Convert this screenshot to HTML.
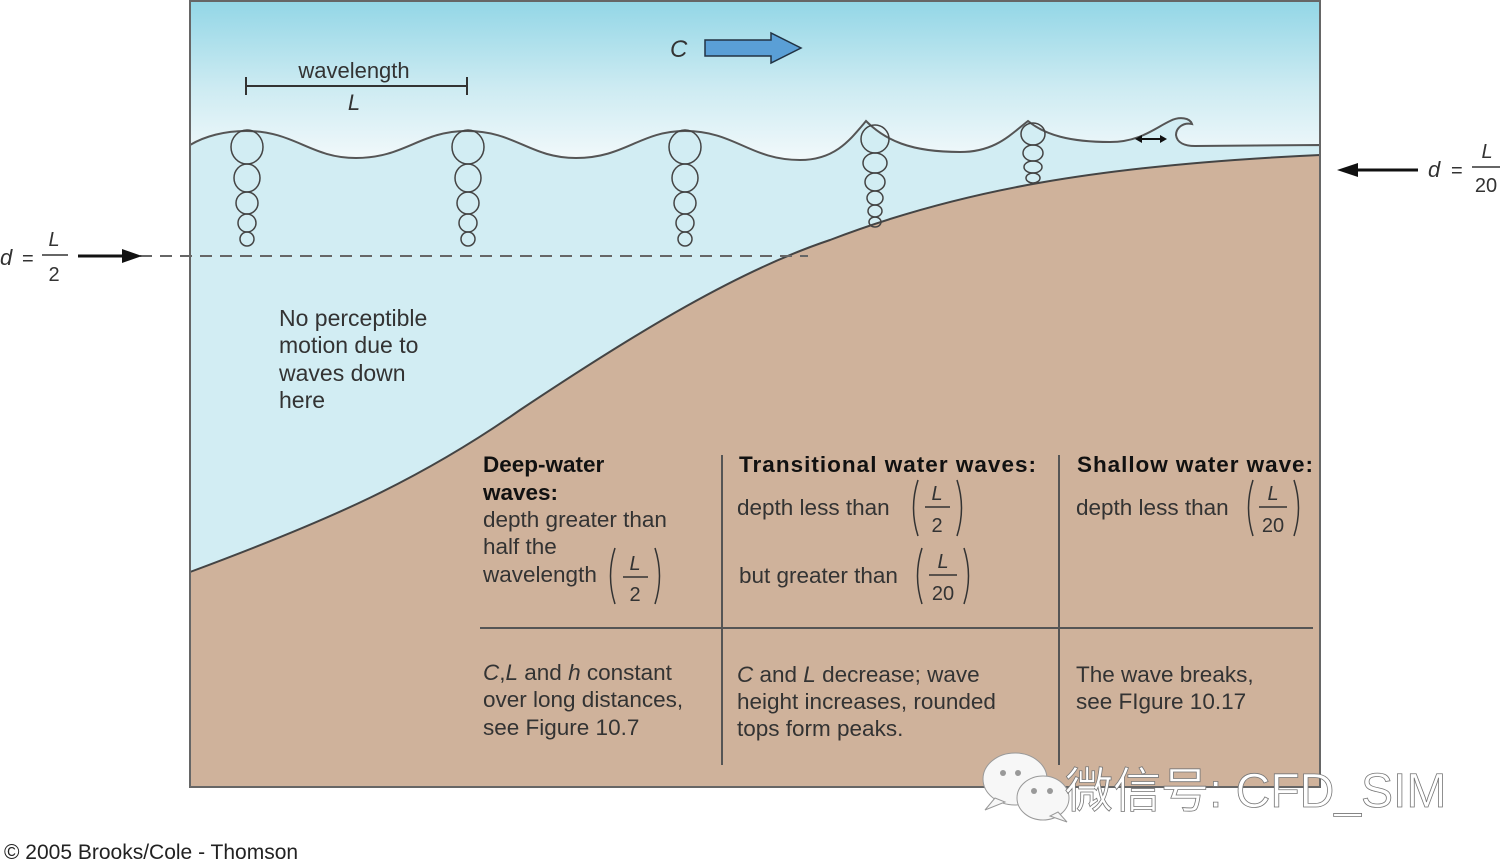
<!DOCTYPE html>
<html><head><meta charset="utf-8"><style>
html,body{margin:0;padding:0;background:#fff;width:1500px;height:867px;overflow:hidden}
svg{display:block}
text{font-family:"Liberation Sans","Noto Sans CJK SC",sans-serif;fill:#333}
</style></head><body>
<svg width="1500" height="867" viewBox="0 0 1500 867" xmlns="http://www.w3.org/2000/svg">
<defs>
<linearGradient id="sky" x1="0" y1="0" x2="0" y2="1">
<stop offset="0" stop-color="#92d6e6"/>
<stop offset="0.55" stop-color="#cdebf2"/>
<stop offset="1" stop-color="#f2f9fb"/>
</linearGradient>
</defs>
<rect x="190" y="0" width="1130" height="160" fill="url(#sky)"/>
<path d="M190,145 C205,136 225,131 246,131 C295,131 310,158 356,158 C405,158 420,131 467,131 C515,131 530,158 576,158 C625,158 640,131 685,131 C735,131 750,160 800,160 C835,160 850,140 866,121 C885,140 910,152 960,152 C995,152 1010,135 1028,121 C1045,135 1070,142 1110,142 C1140,142 1155,128 1170,121 C1180,116 1190,118 1192,124 C1183,122 1176,128 1176,135 C1177,143 1185,146 1195,146 L1320,145 L1320,787 L190,787 Z" fill="#d2edf3" stroke="#555" stroke-width="2"/>
<path d="M190,572 C330,520 420,480 520,410 C640,330 740,270 830,240 C960,190 1100,165 1320,155 L1320,787 L190,787 Z" fill="#cfb29b" stroke="#444" stroke-width="2"/>
<rect x="190" y="1" width="1130" height="786" fill="none" stroke="#666" stroke-width="2"/>
<line x1="140" y1="256" x2="808" y2="256" stroke="#666" stroke-width="2" stroke-dasharray="12,8"/>
<g fill="none" stroke="#444" stroke-width="1.5">
<g id="col">
<ellipse cx="247" cy="147" rx="16" ry="17"/>
<ellipse cx="247" cy="178" rx="13" ry="14"/>
<ellipse cx="247" cy="203" rx="11" ry="11"/>
<ellipse cx="247" cy="223" rx="9" ry="9"/>
<ellipse cx="247" cy="239" rx="7" ry="7"/>
</g>
<use href="#col" x="221"/>
<use href="#col" x="438"/>
<ellipse cx="875" cy="139" rx="14" ry="14"/>
<ellipse cx="875" cy="163" rx="12" ry="10"/>
<ellipse cx="875" cy="182" rx="10" ry="9"/>
<ellipse cx="875" cy="198" rx="8" ry="7"/>
<ellipse cx="875" cy="211" rx="7" ry="6"/>
<ellipse cx="875" cy="222" rx="6" ry="5"/>
<ellipse cx="1033" cy="134" rx="12" ry="11"/>
<ellipse cx="1033" cy="153" rx="10" ry="8"/>
<ellipse cx="1033" cy="167" rx="9" ry="6"/>
<ellipse cx="1033" cy="178" rx="7" ry="5"/>
</g>
<line x1="1139" y1="139" x2="1163" y2="139" stroke="#111" stroke-width="2"/>
<path d="M1135,139 l7,-4 v8z M1167,139 l-7,-4 v8z" fill="#111"/>
<line x1="246" y1="86" x2="467" y2="86" stroke="#333" stroke-width="2"/>
<line x1="246" y1="77" x2="246" y2="95" stroke="#333" stroke-width="2"/>
<line x1="467" y1="77" x2="467" y2="95" stroke="#333" stroke-width="2"/>
<text x="354" y="78" font-size="22" text-anchor="middle">wavelength</text>
<text x="354" y="110" font-size="22" font-style="italic" text-anchor="middle">L</text>
<text x="670" y="57" font-size="24" font-style="italic">C</text>
<path d="M705,40 H771 V33 L801,48 L771,63 V56 H705 Z" fill="#5a9fd6" stroke="#234" stroke-width="1.5"/>
<text x="0" y="265" font-size="22" font-style="italic">d</text>
<text x="22" y="265" font-size="20">=</text>
<text x="54" y="246" font-size="20" font-style="italic" text-anchor="middle">L</text>
<line x1="42" y1="255" x2="68" y2="255" stroke="#333" stroke-width="1.5"/>
<text x="54" y="281" font-size="20" text-anchor="middle">2</text>
<line x1="78" y1="256" x2="125" y2="256" stroke="#111" stroke-width="3"/>
<path d="M142,256 L122,249 L122,263 Z" fill="#111"/>
<line x1="1357" y1="170" x2="1418" y2="170" stroke="#111" stroke-width="3"/>
<path d="M1337,170 L1358,163 L1358,177 Z" fill="#111"/>
<text x="1428" y="177" font-size="22" font-style="italic">d</text>
<text x="1451" y="177" font-size="20">=</text>
<text x="1487" y="158" font-size="20" font-style="italic" text-anchor="middle">L</text>
<line x1="1472" y1="167" x2="1500" y2="167" stroke="#333" stroke-width="1.5"/>
<text x="1486" y="192" font-size="20" text-anchor="middle">20</text>
<g font-size="23">
<text x="279" y="326">No perceptible</text>
<text x="279" y="353">motion due to</text>
<text x="279" y="381">waves down</text>
<text x="279" y="408">here</text>
</g>
<g stroke="#555" stroke-width="2">
<line x1="722" y1="455" x2="722" y2="765"/>
<line x1="1059" y1="455" x2="1059" y2="765"/>
<line x1="480" y1="628" x2="1313" y2="628"/>
</g>
<g font-size="22.5" fill="#222">
<text x="483" y="472" font-weight="bold" style="fill:#111">Deep-water</text>
<text x="483" y="500" font-weight="bold" style="fill:#111">waves:</text>
<text x="483" y="527">depth greater than</text>
<text x="483" y="554">half the</text>
<text x="483" y="582">wavelength</text>
<text x="739" y="472" font-weight="bold" style="fill:#111" textLength="297">Transitional water waves:</text>
<text x="737" y="515">depth less than</text>
<text x="739" y="583">but greater than</text>
<text x="1077" y="472" font-weight="bold" style="fill:#111" textLength="236">Shallow water wave:</text>
<text x="1076" y="515">depth less than</text>
<text x="483" y="680"><tspan font-style="italic">C</tspan>,<tspan font-style="italic">L</tspan> and <tspan font-style="italic">h</tspan> constant</text>
<text x="483" y="707">over long distances,</text>
<text x="483" y="735">see Figure 10.7</text>
<text x="737" y="682"><tspan font-style="italic">C</tspan> and <tspan font-style="italic">L</tspan> decrease; wave</text>
<text x="737" y="709">height increases, rounded</text>
<text x="737" y="736">tops form peaks.</text>
<text x="1076" y="682">The wave breaks,</text>
<text x="1076" y="709">see FIgure 10.17</text>
</g>
<g font-size="20" fill="#333" stroke="none">
<g transform="translate(612,548)">
<path d="M3,0 Q-6,28 3,56" fill="none" stroke="#333" stroke-width="1.5"/>
<text x="23" y="22" font-style="italic" text-anchor="middle">L</text>
<line x1="11" y1="29" x2="36" y2="29" stroke="#333" stroke-width="1.5"/>
<text x="23" y="53" text-anchor="middle">2</text>
<path d="M43,0 Q52,28 43,56" fill="none" stroke="#333" stroke-width="1.5"/>
</g>
<g transform="translate(915,480)">
<path d="M3,0 Q-6,28 3,56" fill="none" stroke="#333" stroke-width="1.5"/>
<text x="22" y="20" font-style="italic" text-anchor="middle">L</text>
<line x1="10" y1="27" x2="35" y2="27" stroke="#333" stroke-width="1.5"/>
<text x="22" y="52" text-anchor="middle">2</text>
<path d="M42,0 Q51,28 42,56" fill="none" stroke="#333" stroke-width="1.5"/>
</g>
<g transform="translate(919,548)">
<path d="M3,0 Q-6,28 3,56" fill="none" stroke="#333" stroke-width="1.5"/>
<text x="24" y="20" font-style="italic" text-anchor="middle">L</text>
<line x1="10" y1="27" x2="38" y2="27" stroke="#333" stroke-width="1.5"/>
<text x="24" y="52" text-anchor="middle">20</text>
<path d="M45,0 Q54,28 45,56" fill="none" stroke="#333" stroke-width="1.5"/>
</g>
<g transform="translate(1250,480)">
<path d="M3,0 Q-6,28 3,56" fill="none" stroke="#333" stroke-width="1.5"/>
<text x="23" y="20" font-style="italic" text-anchor="middle">L</text>
<line x1="9" y1="27" x2="37" y2="27" stroke="#333" stroke-width="1.5"/>
<text x="23" y="52" text-anchor="middle">20</text>
<path d="M44,0 Q53,28 44,56" fill="none" stroke="#333" stroke-width="1.5"/>
</g>
</g>
<g fill="#f7f7f7" stroke="#999" stroke-width="1">
<ellipse cx="1015" cy="779" rx="32" ry="26"/>
<path d="M995,798 L985,810 L1005,802Z"/>
<ellipse cx="1043" cy="798" rx="26" ry="22"/>
<path d="M1058,812 L1067,822 L1050,816Z"/>
</g>
<circle cx="1003" cy="773" r="3" fill="#999"/><circle cx="1018" cy="773" r="3" fill="#999"/>
<circle cx="1034" cy="791" r="3" fill="#999"/><circle cx="1050" cy="791" r="3" fill="#999"/>
<text x="1065" y="807" font-size="48" style="fill:#fff;stroke:#777;stroke-width:0.8">微信号: CFD_SIM</text>
<text x="4" y="859" font-size="21" style="fill:#222">© 2005 Brooks/Cole - Thomson</text>
</svg>
</body></html>
